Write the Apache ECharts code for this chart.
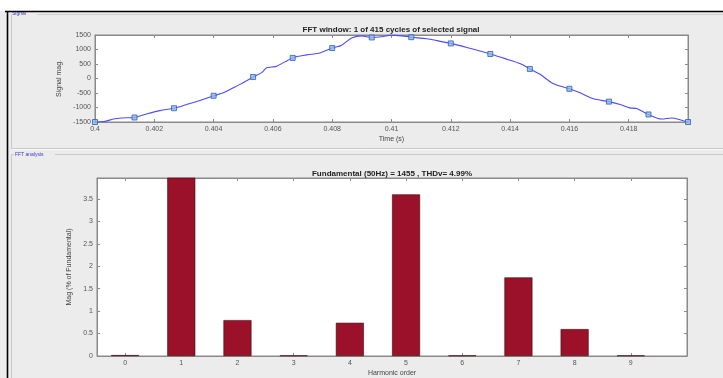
<!DOCTYPE html>
<html><head><meta charset="utf-8">
<script src="https://cdn.jsdelivr.net/npm/echarts@6/dist/echarts.min.js"></script>
<style>html,body{margin:0;padding:0;background:#ececec}#c{width:723px;height:378px}</style>
</head><body><div id="c"></div>
<script>
// ---- Signal (FFT window) ----
const lineTimes = [0.4000,0.40034,0.40062,0.40090,0.401333,0.40174,0.40219,0.402667,0.40309,0.40354,0.404,0.40433,0.40467,0.40489,0.405333,0.40562,0.40579,0.40596,0.40613,0.406667,0.40714,0.40759,0.408,0.40832,0.40866,0.40900,0.409333,0.40967,0.41000,0.41034,0.410667,0.41119,0.41152,0.412,0.41254,0.413333,0.41389,0.41433,0.414667,0.41501,0.41540,0.41568,0.416,0.41636,0.41681,0.417333,0.41771,0.41804,0.41827,0.418667,0.41911,0.41945,0.41973,0.42];
const lineValues = [-1500,-1478,-1396,-1361,-1345,-1222,-1107,-1025,-898,-760,-595,-492,-318,-203,50,203,370,395,425,710,815,880,1050,1150,1400,1470,1415,1440,1495,1470,1425,1370,1310,1210,1070,845,666,516,330,144,-144,-262,-355,-493,-701,-797,-898,-1013,-1037,-1240,-1396,-1361,-1420,-1500];
const markerTimes = [0.4,0.401333,0.402667,0.404,0.405333,0.406667,0.408,0.409333,0.410667,0.412,0.413333,0.414667,0.416,0.417333,0.418667,0.42];
const markerValues = [-1500,-1345,-1025,-595,50,710,1050,1415,1425,1210,845,330,-355,-797,-1240,-1500];
const timeTicks = [0.4,0.402,0.404,0.406,0.408,0.41,0.412,0.414,0.416,0.418];
const signalTicks = [-1500,-1000,-500,0,500,1000,1500];

// ---- FFT analysis ----
const harmonics = [0,1,2,3,4,5,6,7,8,9];
const harmonicMags = [0.02,100,0.80,0.012,0.74,3.60,0.012,1.75,0.60,0.012];
const magTicks = [0,0.5,1,1.5,2,2.5,3,3.5];

const FONT = '"Liberation Sans", Arial, sans-serif';
const AX = '#8a8a8a';
const LBL = '#555';

const chart = echarts.init(document.getElementById('c'), null, {renderer:'canvas'});

function xAx(grid, pos, min, max, ticks, fmt, name, gap) {
  return {
    type:'value', gridIndex:grid, position:pos, min:min, max:max,
    axisLine:{show:true, onZero:false, lineStyle:{color:AX, width:1}},
    axisTick:{show:true, inside:true, length:3, customValues:ticks, lineStyle:{color:AX}},
    axisLabel:{show:pos==='bottom', customValues:ticks, formatter:fmt, fontSize:7, color:LBL, fontFamily:FONT, margin:4},
    splitLine:{show:false},
    name: pos==='bottom'? name : '', nameLocation:'middle', nameGap:gap,
    nameTextStyle:{fontSize:7, color:'#444', fontFamily:FONT}
  };
}
function yAx(grid, pos, min, max, ticks, name, gap) {
  return {
    type:'value', gridIndex:grid, position:pos, min:min, max:max,
    axisLine:{show:true, onZero:false, lineStyle:{color:AX, width:1}},
    axisTick:{show:true, inside:true, length:3, customValues:ticks, lineStyle:{color:AX}},
    axisLabel:{show:pos==='left', customValues:ticks, formatter:v=>String(v), fontSize:7, color:LBL, fontFamily:FONT, margin:4},
    splitLine:{show:false},
    name: pos==='left'? name : '', nameLocation:'middle', nameGap:gap, nameRotate:90,
    nameTextStyle:{fontSize:7, color:'#444', fontFamily:FONT}
  };
}
const tfmt = v => String(+(+v).toFixed(3));

const option = {
  backgroundColor:'#ececec',
  animation:false,
  grid:[
    {left:95, top:35, width:593, height:87, show:true, backgroundColor:'#fff', borderColor:AX, borderWidth:1},
    {left:97, top:178, width:590, height:183, show:true, backgroundColor:'#fff', borderColor:AX, borderWidth:1}
  ],
  xAxis:[
    xAx(0,'bottom',0.4,0.42,timeTicks,tfmt,'Time (s)',14),
    xAx(0,'top',0.4,0.42,timeTicks,tfmt,'',0),
    xAx(1,'bottom',-0.5,10,harmonics,v=>String(v),'Harmonic order',14),
    xAx(1,'top',-0.5,10,harmonics,v=>String(v),'',0)
  ],
  yAxis:[
    yAx(0,'left',-1500,1500,signalTicks,'Signal mag.',25),
    yAx(0,'right',-1500,1500,signalTicks,'',0),
    yAx(1,'left',0,3.965,magTicks,'Mag (% of Fundamental)',19),
    yAx(1,'right',0,3.965,magTicks,'',0)
  ],
  series:[
    {type:'line', xAxisIndex:0, yAxisIndex:0, data:lineTimes.map((t,i)=>[t,lineValues[i]]),
     smooth:0.3, showSymbol:false, lineStyle:{color:'#4b4bff', width:1.1}, z:2},
    {type:'scatter', xAxisIndex:0, yAxisIndex:0, data:markerTimes.map((t,i)=>[t,markerValues[i]]),
     symbol:'rect', symbolSize:5, itemStyle:{color:'#8fb8ea', borderColor:'#2f5fb0', borderWidth:1}, z:3},
    {type:'bar', xAxisIndex:2, yAxisIndex:2, data:harmonics.map((h,i)=>[h,harmonicMags[i]]),
     barWidth:28, clip:true, itemStyle:{color:'#9a1129', borderColor:'#3d0a10', borderWidth:0.6}}
  ],
  graphic:[
    {type:'rect', shape:{x:0,y:0,width:723,height:11}, style:{fill:'#ffffff'}, z:-10},
    {type:'line', shape:{x1:5,y1:11.5,x2:723,y2:11.5}, style:{stroke:'#000',lineWidth:1.6}, z:10},
    {type:'line', shape:{x1:7.5,y1:11,x2:7.5,y2:378}, style:{stroke:'#000',lineWidth:1.6}, z:10},
    // Signal panel
    {type:'polyline', shape:{points:[[37,14.5],[723,14.5]]}, style:{stroke:'#cfcfcf',lineWidth:1,fill:null}},
    {type:'polyline', shape:{points:[[11.5,14.5],[11.5,148.5],[723,148.5]]}, style:{stroke:'#c8c8c8',lineWidth:1,fill:null}},
    {type:'line', shape:{x1:12,y1:149.5,x2:723,y2:149.5}, style:{stroke:'#fafafa',lineWidth:1}},
    {type:'text', x:12, y:14, style:{text:'Signal', font:'5px '+FONT, fill:'#3a3acc', align:'left', verticalAlign:'middle'}},
    // FFT panel
    {type:'polyline', shape:{points:[[11.5,378],[11.5,154.5],[14,154.5]]}, style:{stroke:'#c8c8c8',lineWidth:1,fill:null}},
    {type:'line', shape:{x1:55,y1:154.5,x2:723,y2:154.5}, style:{stroke:'#c8c8c8',lineWidth:1}},
    {type:'text', x:15, y:155, style:{text:'FFT analysis', font:'5px '+FONT, fill:'#3a3acc', align:'left', verticalAlign:'middle'}},
    // Titles
    {type:'text', x:391, y:30, style:{text:'FFT window: 1 of 415 cycles of selected signal', font:'bold 8px '+FONT, fill:'#222', align:'center', verticalAlign:'middle'}},
    {type:'text', x:392, y:174, style:{text:'Fundamental (50Hz) = 1455 , THDv= 4.99%', font:'bold 8px '+FONT, fill:'#222', align:'center', verticalAlign:'middle'}}
  ]
};
chart.setOption(option);
</script>
</body></html>
